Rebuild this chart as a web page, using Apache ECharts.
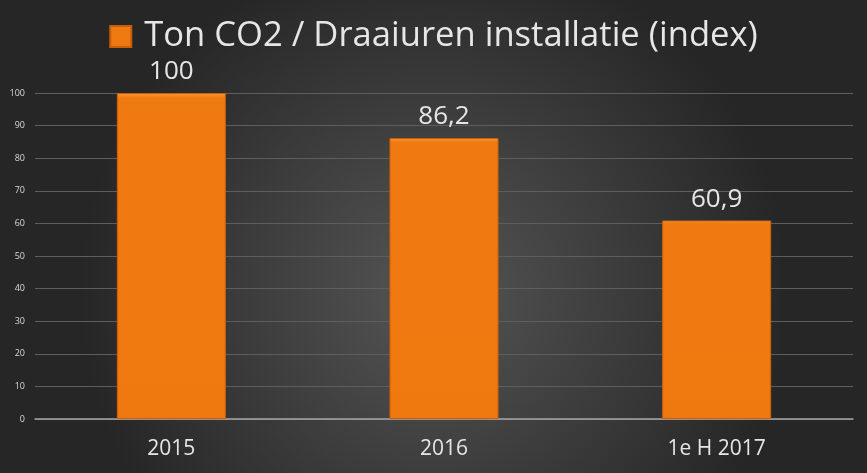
<!DOCTYPE html>
<html><head><meta charset="utf-8">
<script src="https://cdn.jsdelivr.net/npm/echarts@6/dist/echarts.min.js"></script>
<style>html,body{margin:0;padding:0;background:#2a2a2a;}#c{width:867px;height:473px;}</style>
</head><body><div id="c"></div>
<script>
const categories = ['2015', '2016', '1e H 2017'];
const values = [100, 86.2, 60.9];
const labels = ['100', '86,2', '60,9'];
const seriesName = 'Ton CO2 / Draaiuren installatie (index)';

const chart = echarts.init(document.getElementById('c'));
chart.setOption({
  backgroundColor: {
    type: 'radial', x: 0.5, y: 0.62, r: 0.75,
    colorStops: [{offset: 0, color: '#555555'}, {offset: 1, color: '#262626'}]
  },
  textStyle: {fontFamily: 'Open Sans'},
  legend: {
    top: 14, left: 'center', itemWidth: 21, itemHeight: 21, itemGap: 10,
    icon: 'rect',
    textStyle: {color: '#e6e6e6', fontSize: 34.6, fontFamily: 'Open Sans', padding: [0, 0, 0, 8]},
    data: [seriesName]
  },
  grid: {left: 35, right: 14, top: 93, bottom: 54, containLabel: false},
  xAxis: {
    type: 'category', data: categories,
    axisLine: {lineStyle: {color: '#a6a6a6', width: 1.5}},
    axisTick: {show: false},
    axisLabel: {color: '#e6e6e6', fontSize: 21, margin: 20}
  },
  yAxis: {
    type: 'value', min: 0, max: 100, interval: 10,
    axisLine: {show: false}, axisTick: {show: false},
    axisLabel: {color: '#d9d9d9', fontSize: 9, margin: 10},
    splitLine: {lineStyle: {color: '#5e5e5e', width: 1}}
  },
  series: [{
    name: seriesName, type: 'bar', data: values, barCategoryGap: '60%',
    itemStyle: {
      color: {type: 'linear', x: 0, y: 0, x2: 0, y2: 1,
        colorStops: [{offset: 0, color: '#f79a3c'}, {offset: 0.015, color: '#f07a12'}, {offset: 1, color: '#ef780f'}]},
      borderColor: '#c85f08', borderWidth: 1
    },
    label: {
      show: true, position: 'top', distance: 8, color: '#e6e6e6', fontSize: 26,
      formatter: p => labels[p.dataIndex]
    }
  }]
});
</script></body></html>
